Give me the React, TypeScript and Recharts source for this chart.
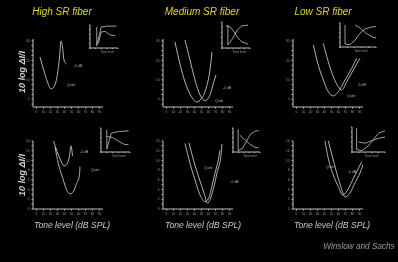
import React from 'react';
import { LineChart, Line, XAxis, YAxis, ReferenceDot } from 'recharts';

type Pt = { x: number; y: number };

const fiberTitles = ['High SR fiber', 'Medium SR fiber', 'Low SR fiber'];
const xAxisTitle = 'Tone level (dB SPL)';
const yAxisTitle = '10 log \u0394I/I';
const credit = 'Winslow and Sachs';
const quietLabel = 'Quiet';
const noiseLabel = '-5 dB';
const insetCaption = 'Tone level';

const toneTicks = [0, 10, 20, 30, 40, 50, 60, 70, 80, 90];
const topYTicks = [-2.5, 0, 2.5, 5, 7.5, 10, 12.5, 15, 17.5, 20, 22.5, 25, 27.5, 30];
const bottomYTicks = [0, 1, 2, 3, 4, 5, 6, 7, 8, 9, 10, 11, 12, 13, 14];

// ---- top row (10 log dI/I vs tone level) ----
const highTopA: Pt[] = [
  { x: 5, y: 21.7 }, { x: 10.7, y: 14.5 }, { x: 15.7, y: 8.9 }, { x: 20.7, y: 5.3 },
  { x: 25.7, y: 6.8 }, { x: 30, y: 13 }, { x: 32.9, y: 21.7 }, { x: 35, y: 30 },
  { x: 37.1, y: 26.9 }, { x: 39.3, y: 20.2 }, { x: 42.9, y: 18.1 },
];
const medTopA: Pt[] = [
  { x: 12.1, y: 29.5 }, { x: 19.3, y: 18.1 }, { x: 26.4, y: 8.9 }, { x: 35, y: 1.7 },
  { x: 42.9, y: -1.4 }, { x: 50, y: 0.4 }, { x: 57.1, y: 6.3 }, { x: 62.1, y: 15 }, { x: 65, y: 24.3 },
];
const medTopB: Pt[] = [
  { x: 26.4, y: 30.5 }, { x: 33.6, y: 20.2 }, { x: 40.7, y: 9.9 }, { x: 47.9, y: 2.2 },
  { x: 55, y: -0.7 }, { x: 62.1, y: 2.2 }, { x: 67.1, y: 8.4 }, { x: 70.7, y: 12.5 },
];
const lowTopA: Pt[] = [
  { x: 24, y: 27.9 }, { x: 31.1, y: 17.6 }, { x: 38.3, y: 9.9 }, { x: 45.4, y: 3.9 },
  { x: 52.6, y: 1.7 }, { x: 59.7, y: 3.9 }, { x: 69.3, y: 9.9 }, { x: 78.9, y: 15.9 }, { x: 86, y: 21.1 },
];
const lowTopB: Pt[] = [
  { x: 38.3, y: 28.8 }, { x: 45.4, y: 19.3 }, { x: 52.6, y: 11.6 }, { x: 59.7, y: 6.4 },
  { x: 64.6, y: 4.7 }, { x: 71.7, y: 9 }, { x: 81.1, y: 15 }, { x: 90.7, y: 21.1 },
];

// ---- bottom row ----
const highBotA: Pt[] = [
  { x: 24.3, y: 14 }, { x: 29.3, y: 11.9 }, { x: 34.3, y: 10.1 }, { x: 39.3, y: 8.9 },
  { x: 43.6, y: 9.3 }, { x: 47.1, y: 10.9 }, { x: 49.3, y: 13 }, { x: 51.4, y: 10.9 },
];
const highBotB: Pt[] = [
  { x: 26.4, y: 12.8 }, { x: 31.1, y: 9.4 }, { x: 38.3, y: 6 }, { x: 43.1, y: 3.9 },
  { x: 47.9, y: 3.1 }, { x: 52.6, y: 3.6 }, { x: 57.4, y: 5.3 }, { x: 61.1, y: 6.7 }, { x: 62.1, y: 8.7 },
];
const medBotA: Pt[] = [
  { x: 26.4, y: 13.5 }, { x: 33.6, y: 9.4 }, { x: 40.7, y: 6 }, { x: 47.9, y: 2.9 },
  { x: 55, y: 1.5 }, { x: 61.1, y: 2.5 }, { x: 64.6, y: 4.6 }, { x: 69.3, y: 7.4 },
  { x: 74, y: 10.1 }, { x: 76.4, y: 12.1 },
];
const medBotB: Pt[] = [
  { x: 32.1, y: 13.6 }, { x: 39.3, y: 9.7 }, { x: 46.4, y: 6.4 }, { x: 53.6, y: 3.3 },
  { x: 58.6, y: 1.2 }, { x: 63.6, y: 2.5 }, { x: 67.9, y: 4.7 }, { x: 72.1, y: 7.4 },
  { x: 77.9, y: 11.1 }, { x: 79.3, y: 13.4 },
];
const lowBotA: Pt[] = [
  { x: 40.7, y: 14 }, { x: 45.4, y: 10.4 }, { x: 52.6, y: 7 }, { x: 59.7, y: 4.6 },
  { x: 66, y: 2.9 }, { x: 71.7, y: 3.6 }, { x: 78.9, y: 5.6 }, { x: 86, y: 7.7 }, { x: 93.1, y: 9.7 },
];
const lowBotB: Pt[] = [
  { x: 45.4, y: 14 }, { x: 50.7, y: 11.1 }, { x: 57.1, y: 7.6 }, { x: 63.6, y: 4.5 },
  { x: 69.3, y: 2.5 }, { x: 76.4, y: 3.3 }, { x: 83.6, y: 5.4 }, { x: 90.7, y: 7.4 }, { x: 95, y: 9.1 },
];

// ---- insets (rate vs level) ----
const insHighTopA: Pt[] = [{ x: 2.4, y: 9.2 }, { x: 2.4, y: 1 }, { x: 4, y: 9.2 }, { x: 6, y: 9.5 }, { x: 9.5, y: 9.5 }];
const insHighTopB: Pt[] = [{ x: 3, y: 2 }, { x: 4, y: 7 }, { x: 5.5, y: 7.2 }, { x: 7, y: 5.8 }, { x: 9, y: 5.3 }];
const insMedTopA: Pt[] = [{ x: 2.1, y: 8.8 }, { x: 2.1, y: 1.2 }, { x: 3.9, y: 3.8 }, { x: 5.4, y: 6.9 }, { x: 7.1, y: 8.5 }, { x: 9.3, y: 8.8 }];
const insMedTopB: Pt[] = [{ x: 1.4, y: 8.5 }, { x: 2.9, y: 8.1 }, { x: 4.3, y: 6.2 }, { x: 5.7, y: 3.8 }, { x: 7.1, y: 2.3 }, { x: 9.3, y: 1.5 }];
const insLowTopA: Pt[] = [{ x: 1.4, y: 9.2 }, { x: 1.4, y: 1.2 }, { x: 2.8, y: 1 }, { x: 4.2, y: 2.9 }, { x: 5.6, y: 5.8 }, { x: 6.9, y: 7.5 }, { x: 8.6, y: 8.3 }, { x: 10, y: 8.5 }];
const insLowTopB: Pt[] = [{ x: 4.2, y: 9.2 }, { x: 5.6, y: 7.9 }, { x: 7.2, y: 5.8 }, { x: 8.9, y: 4.2 }, { x: 10, y: 3.8 }];
const insHighBotA: Pt[] = [{ x: 2, y: 9.2 }, { x: 2, y: 1.2 }, { x: 3.5, y: 7.8 }, { x: 6, y: 8.5 }, { x: 9.5, y: 8.8 }];
const insHighBotB: Pt[] = [{ x: 2, y: 6.5 }, { x: 4, y: 6 }, { x: 6, y: 4.5 }, { x: 8, y: 3.2 }, { x: 9.5, y: 3 }];
const insMedBotA: Pt[] = [{ x: 1.9, y: 9.5 }, { x: 1.9, y: 0.5 }, { x: 3.5, y: 1.5 }, { x: 5, y: 4.5 }, { x: 6.5, y: 7.5 }, { x: 8, y: 8.5 }, { x: 9.5, y: 9 }];
const insMedBotB: Pt[] = [{ x: 2.5, y: 7 }, { x: 4, y: 5.5 }, { x: 6, y: 3.5 }, { x: 8, y: 2 }, { x: 9.5, y: 1.7 }];
const insLowBotA: Pt[] = [{ x: 1.4, y: 9.5 }, { x: 1.4, y: 1 }, { x: 3, y: 0.5 }, { x: 5, y: 2.5 }, { x: 6.5, y: 5 }, { x: 8, y: 7.5 }, { x: 10, y: 8.5 }];
const insLowBotB: Pt[] = [{ x: 2, y: 4 }, { x: 4, y: 3.5 }, { x: 6, y: 4.5 }, { x: 8, y: 5.5 }, { x: 10, y: 6 }];

const AXIS = '#bdbdbd';
const CURVE = '#c4c4c4';
const TICKTXT = '#9a9a9a';
const FONT = '"Liberation Sans", Arial, sans-serif';

type Note = { x: number; y: number; text: string };

function Panel(props: {
  left: number; top: number; yDomain: [number, number]; yTicks: number[];
  labelEvery: number; curves: Pt[][]; notes: Note[];
}) {
  const W = 70, H = 68, YW = 8, XH = 9, MT = 2, MR = 16;
  const { left, top, yDomain, yTicks, labelEvery, curves, notes } = props;
  return (
    <div style={{ position: 'absolute', left: left - YW, top: top - MT }}>
      <LineChart width={YW + W + MR} height={MT + H + XH} margin={{ top: MT, right: MR, bottom: 0, left: 0 }}>
        <XAxis type="number" dataKey="x" domain={[-5, 95]} ticks={toneTicks} interval={0}
          allowDataOverflow stroke={AXIS} height={XH} tickSize={1.5}
          tick={{ fontSize: 3.2, fill: TICKTXT, fontFamily: FONT }} />
        <YAxis type="number" dataKey="y" domain={yDomain} ticks={yTicks} interval={0}
          allowDataOverflow stroke={AXIS} width={YW} tickSize={1.5}
          tickFormatter={(v: number) => (Math.abs(v % labelEvery) < 1e-6 ? String(v) : '')}
          tick={{ fontSize: 3.2, fill: TICKTXT, fontFamily: FONT }} />
        {curves.map((c, i) => (
          <Line key={i} data={c} dataKey="y" type="monotone" stroke={CURVE} strokeWidth={0.9}
            dot={false} isAnimationActive={false} />
        ))}
        {notes.map((n, i) => (
          <ReferenceDot key={'n' + i} x={n.x} y={n.y} r={0} stroke="none"
            label={{ value: n.text, position: 'right', fontSize: 3.5, fill: '#b0b0b0', fontFamily: FONT }} />
        ))}
      </LineChart>
    </div>
  );
}

function Inset(props: { left: number; top: number; w: number; h: number; curves: Pt[][] }) {
  const { left, top, w, h, curves } = props;
  return (
    <div style={{ position: 'absolute', left: left - 2, top: top - 1 }}>
      <LineChart width={w + 3} height={h + 5} margin={{ top: 1, right: 1, bottom: 0, left: 0 }}>
        <XAxis type="number" dataKey="x" domain={[0, 10]} ticks={[0, 2, 4, 6, 8, 10]} interval={0}
          stroke={AXIS} height={4} tickSize={1} tickFormatter={() => ''} />
        <YAxis type="number" dataKey="y" domain={[0, 10]} ticks={[0, 2, 4, 6, 8, 10]} interval={0}
          stroke={AXIS} width={2} tickSize={1} tickFormatter={() => ''} />
        {curves.map((c, i) => (
          <Line key={i} data={c} dataKey="y" type="linear" stroke={CURVE} strokeWidth={0.8}
            dot={false} isAnimationActive={false} />
        ))}
      </LineChart>
      <div style={{ position: 'absolute', left: w * 0.45, top: h + 3, fontSize: 3, color: '#999', fontFamily: FONT, whiteSpace: 'nowrap' }}>
        {insetCaption}
      </div>
    </div>
  );
}

const centered = (cx: number, top: number, s: React.CSSProperties): React.CSSProperties => ({
  position: 'absolute', left: cx - 70, width: 140, top, textAlign: 'center',
  fontFamily: FONT, whiteSpace: 'nowrap', lineHeight: 1, ...s,
});

export default function App() {
  const colsX = [33, 163, 293];
  const titleCx = [62, 202, 323];
  const toneCx = [72, 203, 332];
  const topCurves = [[highTopA], [medTopA, medTopB], [lowTopA, lowTopB]];
  const botCurves = [[highBotA, highBotB], [medBotA, medBotB], [lowBotA, lowBotB]];
  const topNotes: Note[][] = [
    [{ x: 36.4, y: 7.3, text: quietLabel }, { x: 46.4, y: 17.1, text: noiseLabel }],
    [{ x: 62.1, y: -0.9, text: quietLabel }, { x: 73.6, y: 5.8, text: noiseLabel }],
    [{ x: 65, y: 1.7, text: quietLabel }, { x: 80, y: 7.3, text: noiseLabel }],
  ];
  const botNotes: Note[][] = [
    [{ x: 55, y: 11.8, text: noiseLabel }, { x: 70.7, y: 8, text: quietLabel }],
    [{ x: 46.4, y: 8.4, text: quietLabel }, { x: 84, y: 5.6, text: noiseLabel }],
    [{ x: 35, y: 8.6, text: quietLabel }, { x: 66.4, y: 7.6, text: noiseLabel }],
  ];
  return (
    <div style={{ position: 'absolute', left: 0, top: 0, width: 398, height: 262, background: '#000', overflow: 'hidden' }}>
      <div style={{ position: 'absolute', left: 0, top: 0, width: 398, height: 262, filter: 'blur(0.35px)' }}>
        {fiberTitles.map((t, i) => (
          <div key={t} style={centered(titleCx[i], 7, { fontSize: 10, fontStyle: 'italic', color: '#dcd81c' })}>{t}</div>
        ))}
        {colsX.map((x, i) => (
          <Panel key={'t' + i} left={x} top={39} yDomain={[-4, 31]} yTicks={topYTicks} labelEvery={10}
            curves={topCurves[i]} notes={topNotes[i]} />
        ))}
        {colsX.map((x, i) => (
          <Panel key={'b' + i} left={x} top={141} yDomain={[0, 14]} yTicks={bottomYTicks} labelEvery={2}
            curves={botCurves[i]} notes={botNotes[i]} />
        ))}
        <Inset left={90} top={25} w={28} h={23} curves={[insHighTopA, insHighTopB]} />
        <Inset left={222} top={22} w={28} h={26} curves={[insMedTopA, insMedTopB]} />
        <Inset left={340} top={23} w={36} h={24} curves={[insLowTopA, insLowTopB]} />
        <Inset left={101} top={128} w={29} h={24} curves={[insHighBotA, insHighBotB]} />
        <Inset left={233} top={128} w={27} h={24} curves={[insMedBotA, insMedBotB]} />
        <Inset left={352} top={127} w={33} h={25} curves={[insLowBotA, insLowBotB]} />
        {[72, 175].map((cy) => (
          <div key={cy} style={{ position: 'absolute', left: 22 - 30, top: cy - 5, width: 60, height: 10, textAlign: 'center', lineHeight: '10px', transform: 'rotate(-90deg)', fontFamily: FONT, fontSize: 9, fontStyle: 'italic', fontWeight: 'bold', color: '#d0d0d0', whiteSpace: 'nowrap' }}>{yAxisTitle}</div>
        ))}
        {toneCx.map((cx, i) => (
          <div key={'tone' + i} style={centered(cx, 221, { fontSize: 8.6, fontStyle: 'italic', color: '#c8c8c8' })}>{xAxisTitle}</div>
        ))}
        <div style={centered(359, 243, { fontSize: 8.2, fontStyle: 'italic', color: '#9a9a9a' })}>{credit}</div>
      </div>
    </div>
  );
}
